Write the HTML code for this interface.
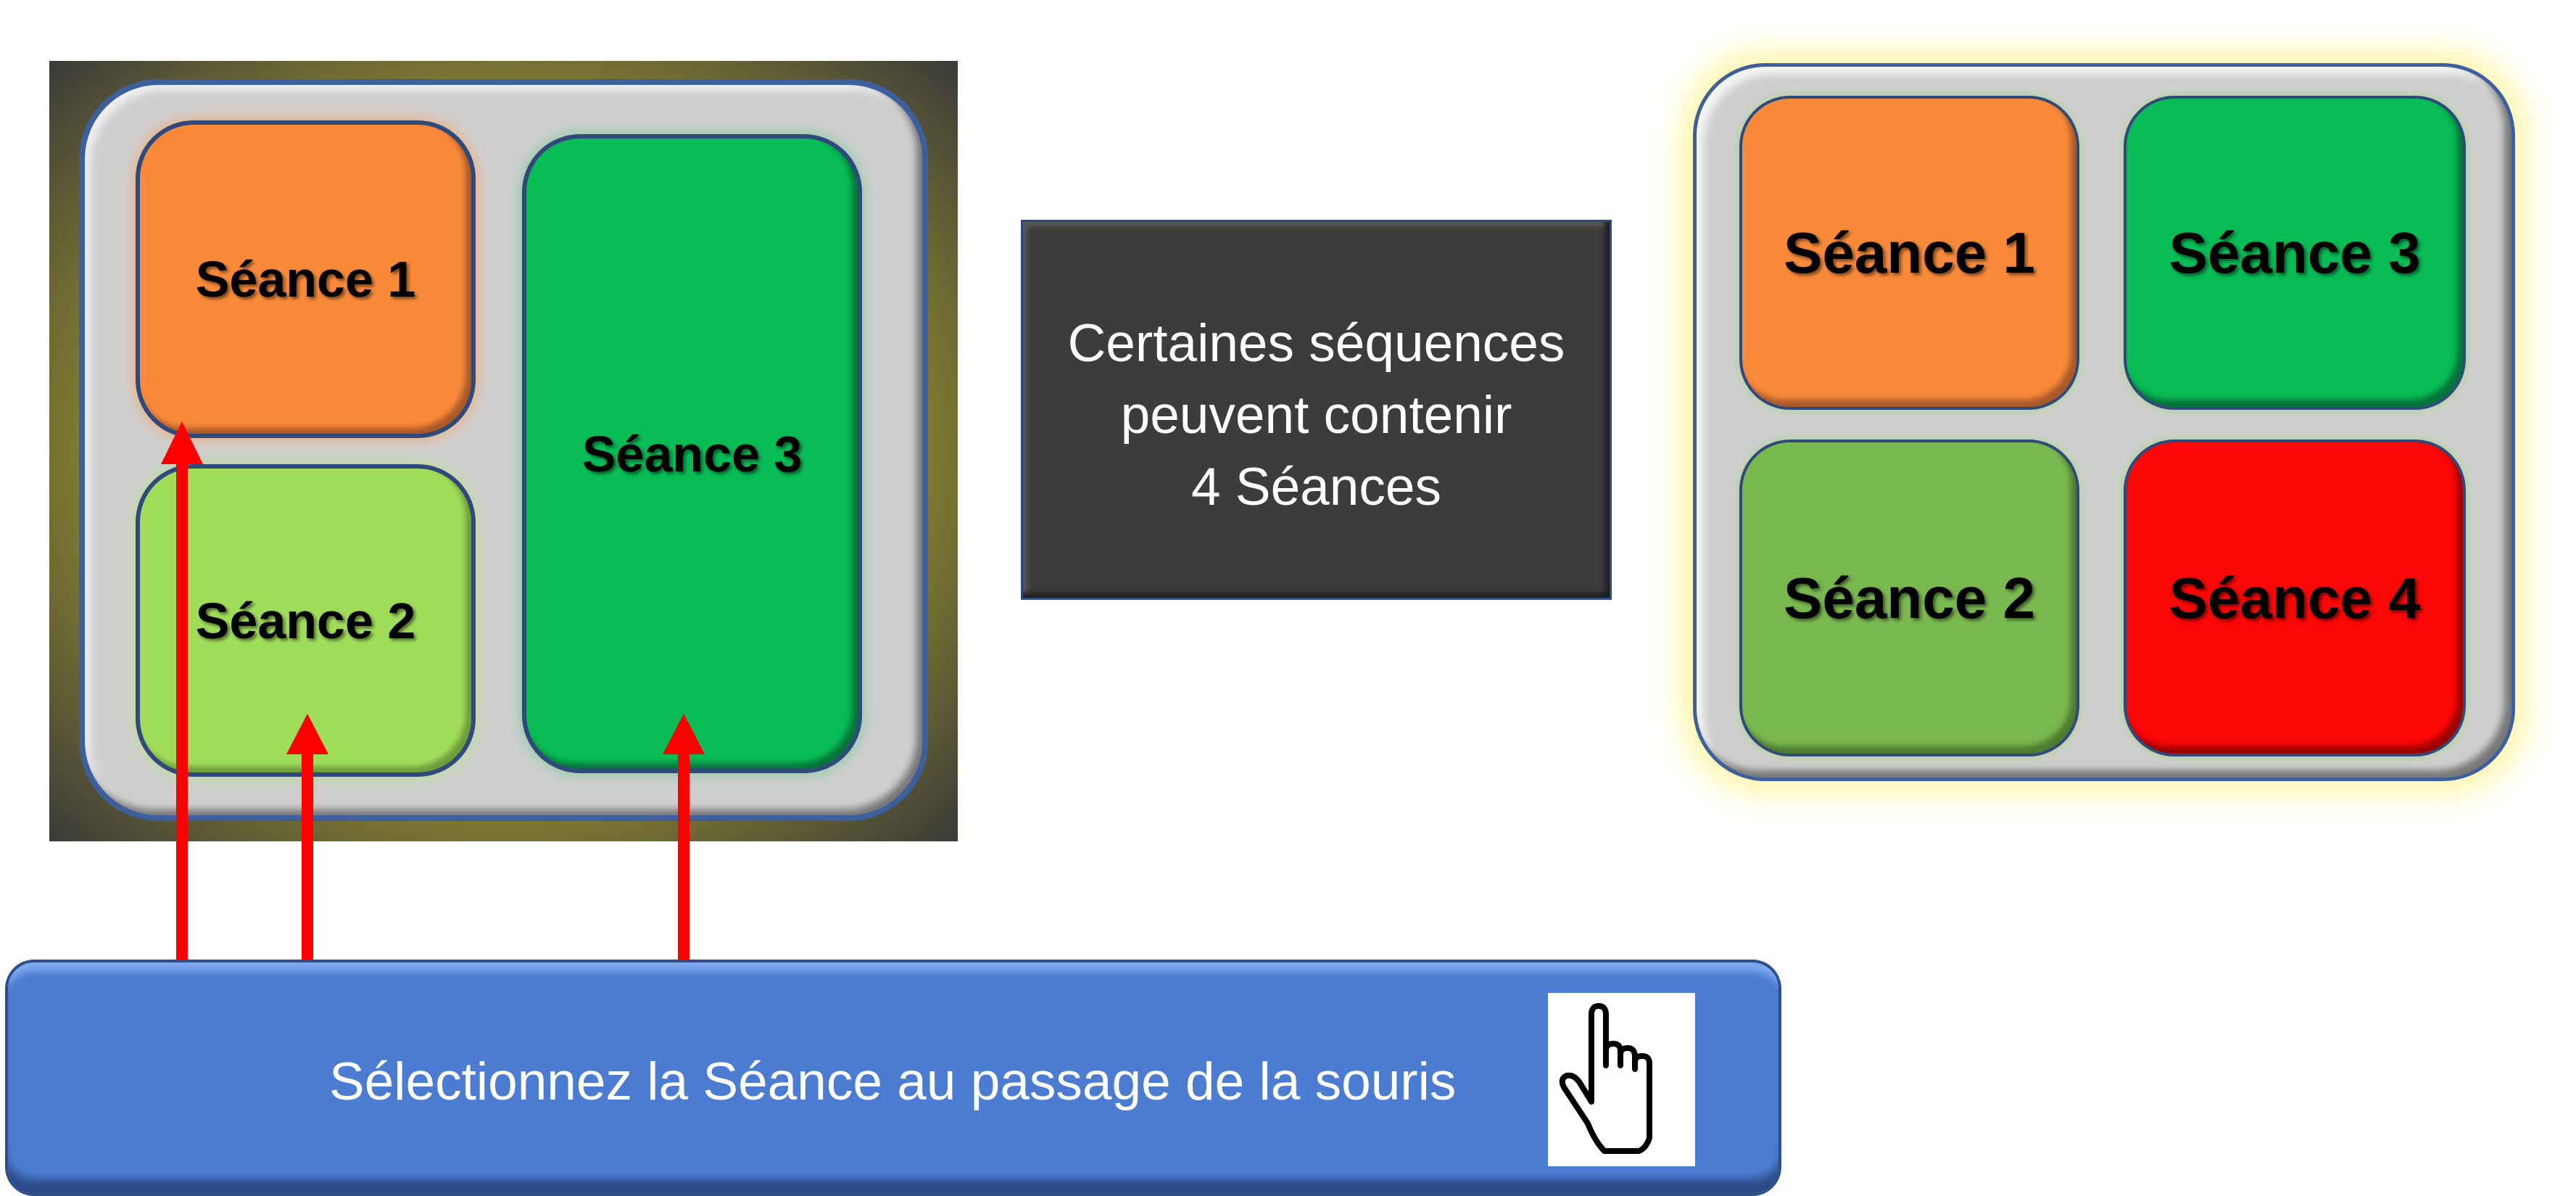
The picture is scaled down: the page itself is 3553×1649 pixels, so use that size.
<!DOCTYPE html>
<html><head><meta charset="utf-8"><style>
body{margin:0;width:3553px;height:1649px;background:#fff;position:relative;overflow:hidden;font-family:"Liberation Sans",sans-serif}
.a{position:absolute;box-sizing:border-box}
.tile{display:flex;align-items:center;justify-content:center;font-weight:bold;color:#000;border:6px solid #2f4a7a;text-shadow:3px 3px 4px rgba(0,0,0,.5)}
</style></head><body>
<!-- left panel -->
<div class="a" style="left:68px;top:84px;width:1253px;height:1076px;background:radial-gradient(ellipse at center,#8a8430 60%,#3a3a38 100%)"></div>
<div class="a" style="left:109px;top:109px;width:1171px;height:1023px;border-radius:110px;background:#cfcfcf;border:8px solid #3d5f9c;box-shadow:inset -8px -8px 10px #777,inset 8px 8px 10px #eee"></div>
<div class="a tile" style="left:187px;top:166px;width:469px;height:438px;border-radius:80px;background:#f98a3a;font-size:70px;box-shadow:0 0 20px #f5a66a,inset -8px -8px 8px #a8592a">Séance 1</div>
<div class="a tile" style="left:187px;top:640px;width:469px;height:431px;border-radius:80px;background:#a0de5a;font-size:70px;box-shadow:0 0 20px #b7e08a,inset -8px -8px 8px #6e9a3c">Séance 2</div>
<div class="a tile" style="left:720px;top:185px;width:469px;height:881px;border-radius:80px;background:#08bc56;font-size:70px;box-shadow:0 0 20px #7cc99a,inset -8px -8px 8px #06733a">Séance 3</div>
<!-- arrows -->
<svg class="a" style="left:0;top:0" width="3553" height="1649">
<g fill="#ff0000" stroke="none">
<rect x="243" y="640" width="16" height="690"/><polygon points="251,581 222,640 280,640"/>
<rect x="416" y="1040" width="16" height="290"/><polygon points="424,984 395,1040 453,1040"/>
<rect x="935" y="1040" width="16" height="290"/><polygon points="943,984 914,1040 972,1040"/>
</g></svg>
<!-- middle box -->
<div class="a" style="left:1408px;top:303px;width:815px;height:524px;background:#3d3c3a;border:3px solid #2d4a80;box-shadow:inset -6px -6px 8px #1c1c1c,inset 6px 6px 8px #5a5a58;color:#fff;font-size:73px;text-align:center;line-height:99px;padding-top:118px;white-space:nowrap">Certaines séquences<br>peuvent contenir<br>4 Séances</div>
<!-- right panel -->
<div class="a" style="left:2335px;top:87px;width:1134px;height:990px;border-radius:100px;background:#cfcfcf;border:5px solid #3d5f9c;box-shadow:0 0 40px 20px #fff6b0,inset -10px -10px 10px #777,inset 10px 10px 10px #f4f4f4"></div>
<div class="a tile" style="left:2399px;top:132px;width:469px;height:433px;border-radius:70px;background:#f98a3a;font-size:80px;border-width:4px;box-shadow:0 0 14px #a9d48a,inset -8px -10px 8px #a8592a">Séance 1</div>
<div class="a tile" style="left:2929px;top:132px;width:472px;height:433px;border-radius:70px;background:#08bc56;font-size:80px;border-width:4px;box-shadow:0 0 14px #a9d48a,inset -8px -10px 8px #06733a">Séance 3</div>
<div class="a tile" style="left:2399px;top:606px;width:469px;height:437px;border-radius:70px;background:#7ab850;font-size:80px;border-width:4px;box-shadow:0 0 14px #a9d48a,inset -8px -10px 8px #4e7a30">Séance 2</div>
<div class="a tile" style="left:2929px;top:606px;width:472px;height:437px;border-radius:70px;background:#fc0707;font-size:80px;border-width:4px;box-shadow:0 0 14px #a9d48a,inset -8px -10px 8px #900">Séance 4</div>
<!-- bottom bar -->
<div class="a" style="left:7px;top:1323px;width:2450px;height:326px;border-radius:40px;background:#4c7cd2;border:4px solid #2d4f8a;box-shadow:inset 0 20px 10px -8px #7fa8f0,inset 0 -25px 12px -6px #2c4a86"></div>
<div class="a" style="left:454px;top:1447px;width:1600px;color:#fff;font-size:73px;line-height:90px;white-space:nowrap">Sélectionnez la Séance au passage de la souris</div>
<div class="a" style="left:2135px;top:1369px;width:203px;height:239px;background:#fff"></div>
<svg class="a" style="left:2135px;top:1369px" width="203" height="239" viewBox="0 0 203 239">
<path d="M60 150 L60 30 Q60 18 70 18 Q80 18 80 30 L80 100 L80 80 Q80 70 90 70 Q100 70 100 80 L100 100 L100 85 Q100 76 110 76 Q120 76 120 88 L120 105 L120 95 Q120 87 130 87 Q140 87 140 97 L140 200 Q135 215 125 218 L78 218 Q65 205 55 180 L22 130 Q16 118 26 114 Q36 112 44 124 L60 150 Z" fill="#fff" stroke="#000" stroke-width="8" stroke-linejoin="round"/>
</svg>
</body></html>
